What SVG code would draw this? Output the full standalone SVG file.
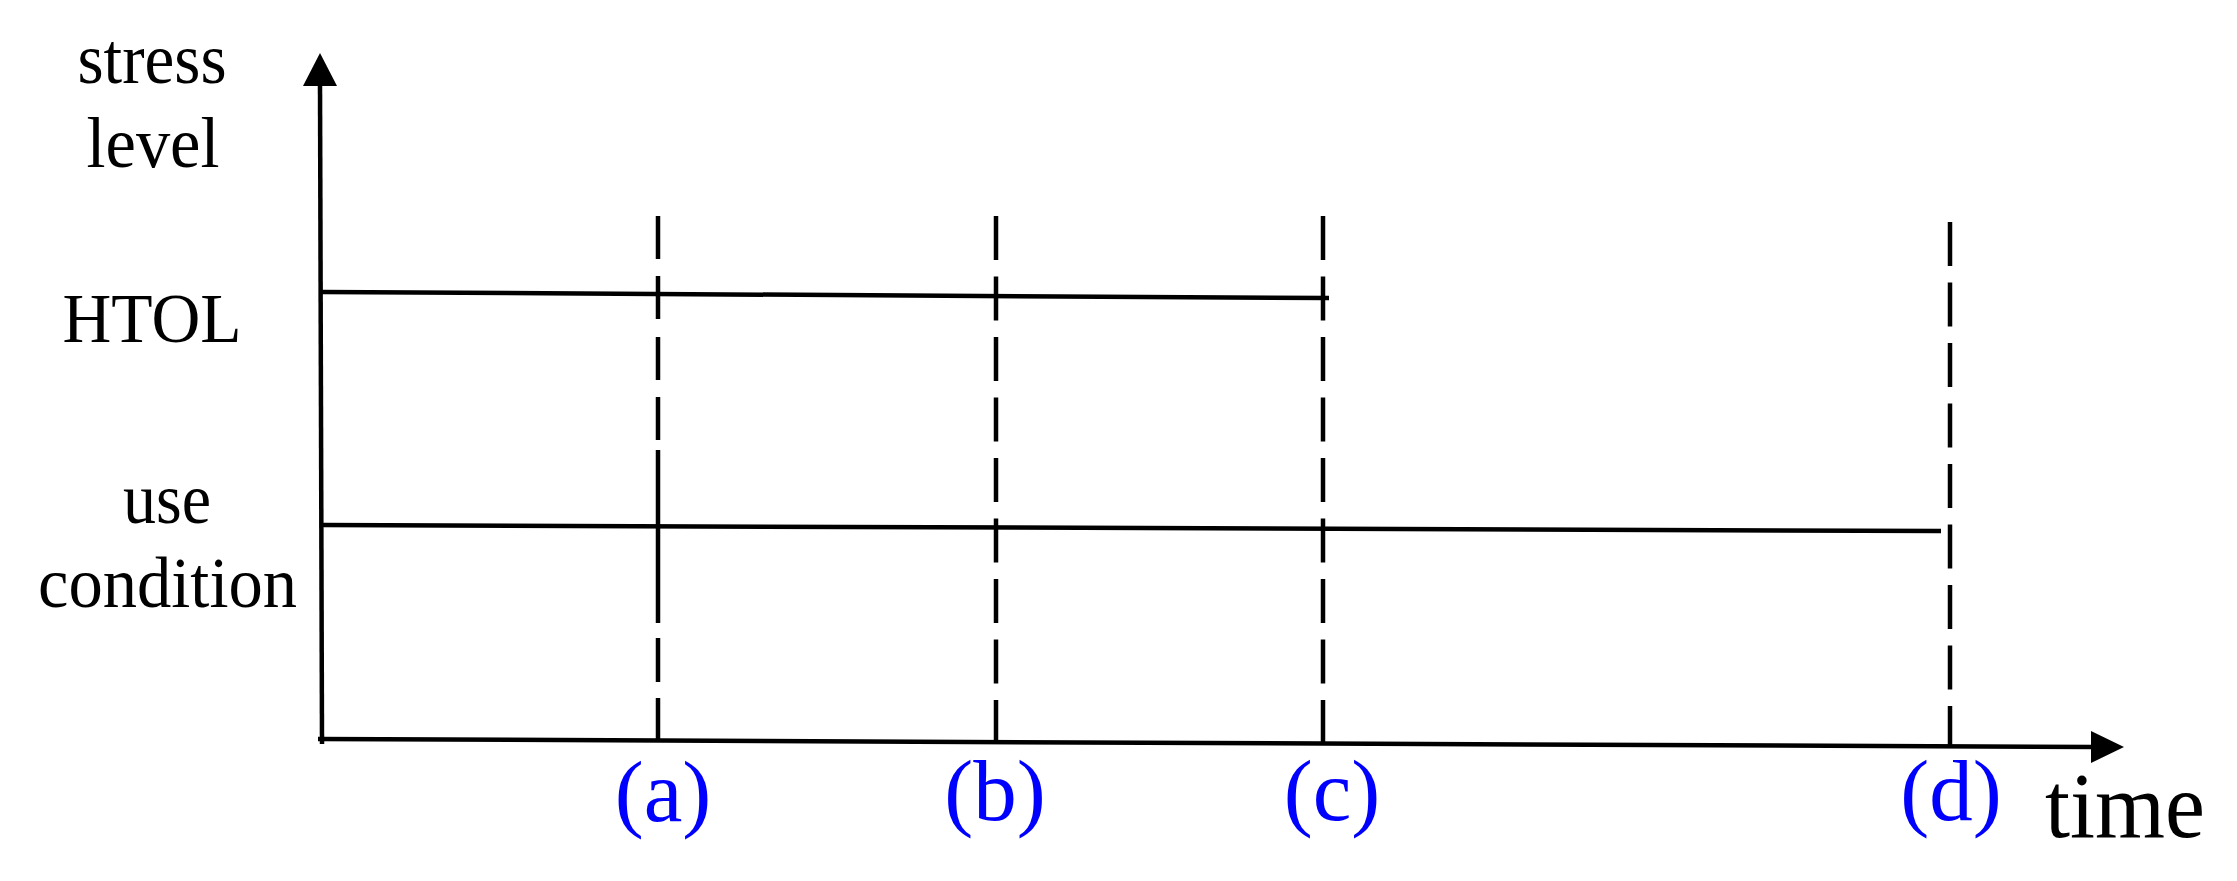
<svg xmlns="http://www.w3.org/2000/svg" width="2237" height="881" viewBox="0 0 2237 881">
  <style>
    .ax { stroke: #000; stroke-width: 4.5; fill: none; }
    .lvl { stroke: #000; stroke-width: 4.5; fill: none; }
    .dash { stroke: #000; stroke-width: 4.5; fill: none; stroke-dasharray: 44 16.5; }
    .lab { font-family: "Liberation Serif", "Times New Roman", serif; font-size: 72px; fill: #000; text-anchor: middle; }
    .pt { font-family: "Liberation Serif", "Times New Roman", serif; font-size: 87px; fill: #0000FF; text-anchor: middle; }
    .tm { font-family: "Liberation Serif", "Times New Roman", serif; font-size: 93px; fill: #000; }
  </style>
  <rect width="2237" height="881" fill="#fff"/>
  <g id="connectors">
    <g id="y-axis">
      <line class="ax" x1="322" y1="744" x2="320" y2="84"/>
      <polygon points="320,53 303,86 337,86" fill="#000"/>
    </g>
    <g id="x-axis">
      <line class="ax" x1="318" y1="739" x2="2094" y2="747"/>
      <polygon points="2124,747 2091,731 2091,763" fill="#000"/>
    </g>
    <line id="htol-line" class="lvl" x1="322" y1="292" x2="1329" y2="298"/>
    <line id="use-line" class="lvl" x1="323" y1="525" x2="1941" y2="531"/>
    <line id="dash-a" class="ax" style="stroke-dasharray: 43 17 43 18 43 17 43 10 173 15 44 16 43" x1="658" y1="216" x2="658" y2="741"/>
    <line id="dash-b" class="dash" x1="996" y1="216" x2="996" y2="742"/>
    <line id="dash-c" class="dash" x1="1323" y1="216" x2="1323" y2="743"/>
    <line id="dash-d" class="dash" x1="1950" y1="222" x2="1950" y2="747"/>
  </g>
  <g id="label-stress-level">
    <text class="lab" x="152" y="83" textLength="149" lengthAdjust="spacingAndGlyphs">stress</text>
    <text class="lab" x="153" y="167" textLength="133" lengthAdjust="spacingAndGlyphs">level</text>
  </g>
  <g id="label-htol">
    <text class="lab" style="font-size:70px" x="152" y="342" textLength="179" lengthAdjust="spacingAndGlyphs">HTOL</text>
  </g>
  <g id="label-use-condition">
    <text class="lab" x="167" y="523" textLength="88" lengthAdjust="spacingAndGlyphs">use</text>
    <text class="lab" x="167.5" y="607" textLength="259" lengthAdjust="spacingAndGlyphs">condition</text>
  </g>
  <g id="point-a"><text class="pt" x="663" y="821">(a)</text></g>
  <g id="point-b"><text class="pt" x="995" y="820">(b)</text></g>
  <g id="point-c"><text class="pt" x="1332" y="820">(c)</text></g>
  <g id="point-d"><text class="pt" x="1951" y="820">(d)</text></g>
  <g id="label-time"><text class="tm" x="2045" y="837" textLength="160" lengthAdjust="spacingAndGlyphs">time</text></g>
</svg>
